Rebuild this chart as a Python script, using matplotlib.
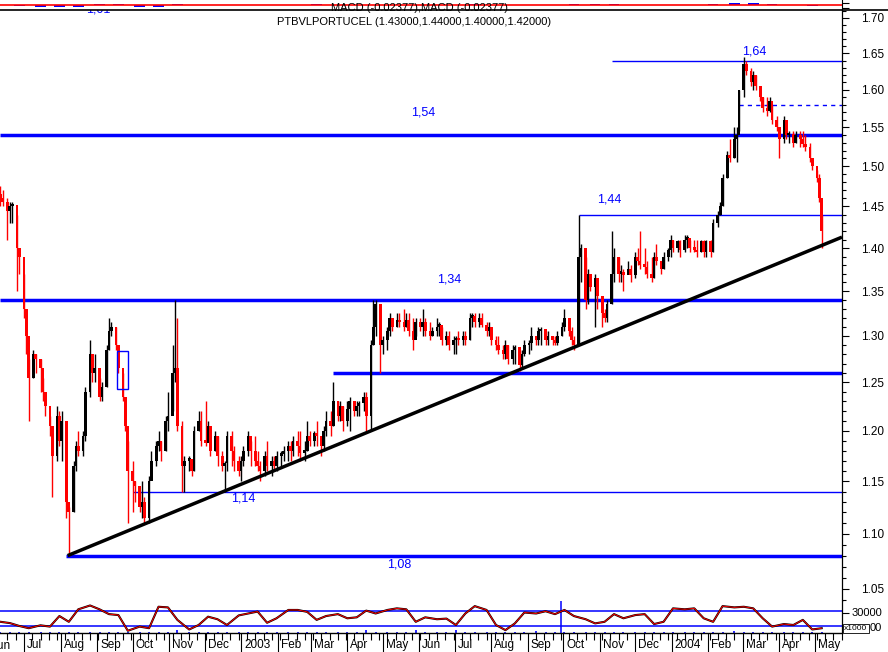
import numpy as np
import pandas as pd
import matplotlib
matplotlib.use("Agg")
import matplotlib.pyplot as plt
import matplotlib.dates as mdates
import matplotlib.transforms as mtransforms
from matplotlib.ticker import FixedLocator, FixedFormatter, NullFormatter, NullLocator
from matplotlib.patches import Rectangle
from matplotlib.lines import Line2D

plt.rcParams['font.family'] = ['Liberation Sans', 'DejaVu Sans']

# ---------------- data ----------------
first_date = '2002-06-11'          # one bar every 2 trading days
open_first = 1.465
close = [1.46, 1.455, 1.445, 1.45, 1.452, 1.40, 1.39, 1.33, 1.30, 1.255,
         1.28, 1.275, 1.265, 1.24, 1.225, 1.205, 1.175, 1.215, 1.19, 1.21,
         1.13, 1.12, 1.165, 1.185, 1.18, 1.195, 1.24, 1.28, 1.26, 1.265,
         1.235, 1.245, 1.285, 1.305, 1.31, 1.29, 1.265, 1.235, 1.205, 1.16,
         1.15, 1.145, 1.125, 1.13, 1.115, 1.15, 1.17, 1.185, 1.19, 1.18,
         1.21, 1.215, 1.26, 1.265, 1.205, 1.165, 1.17, 1.172, 1.16, 1.20,
         1.21, 1.19, 1.188, 1.205, 1.18, 1.195, 1.175, 1.165, 1.168, 1.195,
         1.18, 1.17, 1.16, 1.17, 1.18, 1.195, 1.18, 1.17, 1.165, 1.16,
         1.175, 1.165, 1.17, 1.165, 1.175, 1.177, 1.18, 1.185, 1.18, 1.19,
         1.185, 1.178, 1.18, 1.195, 1.19, 1.198, 1.195, 1.185, 1.20, 1.21,
         1.205, 1.23, 1.215, 1.225, 1.21, 1.222, 1.23, 1.22, 1.225, 1.228,
         1.235, 1.215, 1.29, 1.31, 1.335, 1.29, 1.295, 1.305, 1.32, 1.31,
         1.318, 1.315, 1.31, 1.318, 1.305, 1.295, 1.315, 1.31, 1.315, 1.305,
         1.30, 1.305, 1.31, 1.312, 1.295, 1.30, 1.29, 1.295, 1.298, 1.295,
         1.30, 1.295, 1.32, 1.322, 1.315, 1.32, 1.312, 1.305, 1.31, 1.295,
         1.29, 1.285, 1.28, 1.29, 1.275, 1.285, 1.288, 1.268, 1.28, 1.29,
         1.292, 1.30, 1.295, 1.305, 1.308, 1.295, 1.30, 1.295, 1.292, 1.30,
         1.31, 1.32, 1.305, 1.295, 1.29, 1.39, 1.40, 1.34, 1.37, 1.355,
         1.365, 1.345, 1.325, 1.32, 1.335, 1.37, 1.39, 1.37, 1.372, 1.368,
         1.375, 1.368, 1.39, 1.385, 1.38, 1.378, 1.37, 1.365, 1.39, 1.385,
         1.375, 1.39, 1.398, 1.41, 1.40, 1.408, 1.398, 1.41, 1.412, 1.40,
         1.398, 1.395, 1.408, 1.395, 1.408, 1.395, 1.43, 1.44, 1.45, 1.485,
         1.515, 1.51, 1.535, 1.54, 1.60, 1.635, 1.625, 1.61, 1.62, 1.605,
         1.59, 1.575, 1.572, 1.585, 1.56, 1.55, 1.535, 1.56, 1.54, 1.542,
         1.53, 1.54, 1.535, 1.528, 1.525, 1.51, 1.50, 1.485, 1.46, 1.42]
high = [1.475, 1.47, 1.46, 1.455, 1.455, 1.44, 1.40, 1.37, 1.33, 1.275,
        1.285, 1.28, 1.275, 1.255, 1.235, 1.215, 1.20, 1.225, 1.22, 1.22,
        1.20, 1.125, 1.17, 1.19, 1.20, 1.20, 1.245, 1.295, 1.28, 1.28,
        1.255, 1.25, 1.29, 1.32, 1.315, 1.31, 1.285, 1.26, 1.235, 1.19,
        1.17, 1.15, 1.14, 1.15, 1.135, 1.155, 1.18, 1.19, 1.20, 1.19,
        1.215, 1.24, 1.29, 1.34, 1.32, 1.21, 1.175, 1.175, 1.17, 1.205,
        1.22, 1.22, 1.23, 1.21, 1.20, 1.20, 1.195, 1.18, 1.17, 1.20,
        1.20, 1.185, 1.175, 1.175, 1.185, 1.20, 1.19, 1.195, 1.18, 1.17,
        1.18, 1.19, 1.175, 1.175, 1.18, 1.18, 1.185, 1.19, 1.19, 1.195,
        1.20, 1.20, 1.19, 1.21, 1.20, 1.20, 1.21, 1.19, 1.205, 1.22,
        1.22, 1.25, 1.23, 1.23, 1.225, 1.23, 1.235, 1.23, 1.23, 1.23,
        1.24, 1.24, 1.295, 1.34, 1.34, 1.33, 1.30, 1.31, 1.325, 1.32,
        1.325, 1.325, 1.33, 1.325, 1.325, 1.32, 1.32, 1.32, 1.33, 1.32,
        1.315, 1.31, 1.32, 1.315, 1.31, 1.305, 1.305, 1.30, 1.30, 1.305,
        1.305, 1.305, 1.325, 1.325, 1.325, 1.325, 1.325, 1.315, 1.315, 1.31,
        1.30, 1.30, 1.29, 1.295, 1.29, 1.29, 1.29, 1.285, 1.285, 1.295,
        1.295, 1.31, 1.30, 1.31, 1.31, 1.305, 1.305, 1.30, 1.30, 1.305,
        1.315, 1.33, 1.32, 1.31, 1.30, 1.44, 1.405, 1.39, 1.375, 1.37,
        1.37, 1.35, 1.345, 1.33, 1.34, 1.42, 1.40, 1.39, 1.38, 1.375,
        1.385, 1.38, 1.395, 1.40, 1.42, 1.40, 1.385, 1.39, 1.395, 1.405,
        1.385, 1.395, 1.40, 1.415, 1.41, 1.41, 1.41, 1.415, 1.415, 1.41,
        1.41, 1.41, 1.41, 1.41, 1.41, 1.41, 1.435, 1.445, 1.455, 1.49,
        1.52, 1.535, 1.55, 1.55, 1.60, 1.645, 1.64, 1.63, 1.625, 1.62,
        1.605, 1.59, 1.59, 1.59, 1.58, 1.565, 1.55, 1.565, 1.56, 1.545,
        1.545, 1.545, 1.545, 1.545, 1.54, 1.53, 1.51, 1.495, 1.49, 1.44]
low = [1.45, 1.45, 1.41, 1.43, 1.43, 1.35, 1.37, 1.32, 1.28, 1.21,
       1.255, 1.26, 1.24, 1.23, 1.215, 1.195, 1.135, 1.17, 1.185, 1.17,
       1.115, 1.08, 1.12, 1.16, 1.175, 1.175, 1.19, 1.235, 1.25, 1.25,
       1.23, 1.23, 1.245, 1.285, 1.30, 1.285, 1.26, 1.23, 1.20, 1.11,
       1.12, 1.13, 1.12, 1.115, 1.11, 1.11, 1.155, 1.165, 1.18, 1.17,
       1.18, 1.20, 1.22, 1.25, 1.20, 1.14, 1.14, 1.16, 1.155, 1.16,
       1.20, 1.185, 1.185, 1.19, 1.175, 1.18, 1.165, 1.16, 1.14, 1.16,
       1.165, 1.16, 1.155, 1.15, 1.165, 1.175, 1.165, 1.165, 1.16, 1.15,
       1.155, 1.16, 1.155, 1.16, 1.16, 1.165, 1.17, 1.17, 1.17, 1.175,
       1.175, 1.17, 1.17, 1.18, 1.185, 1.185, 1.185, 1.175, 1.18, 1.195,
       1.195, 1.205, 1.21, 1.21, 1.20, 1.205, 1.20, 1.215, 1.215, 1.215,
       1.22, 1.20, 1.20, 1.29, 1.30, 1.26, 1.28, 1.285, 1.30, 1.305,
       1.31, 1.31, 1.305, 1.31, 1.30, 1.285, 1.30, 1.305, 1.30, 1.30,
       1.295, 1.30, 1.30, 1.30, 1.29, 1.29, 1.285, 1.28, 1.28, 1.29,
       1.29, 1.29, 1.295, 1.31, 1.31, 1.31, 1.31, 1.30, 1.30, 1.29,
       1.285, 1.28, 1.275, 1.275, 1.27, 1.27, 1.27, 1.262, 1.265, 1.278,
       1.28, 1.285, 1.29, 1.29, 1.29, 1.29, 1.29, 1.29, 1.29, 1.29,
       1.30, 1.305, 1.30, 1.29, 1.285, 1.29, 1.36, 1.33, 1.335, 1.35,
       1.31, 1.33, 1.31, 1.315, 1.315, 1.335, 1.36, 1.36, 1.36, 1.35,
       1.37, 1.36, 1.365, 1.38, 1.375, 1.37, 1.365, 1.36, 1.365, 1.38,
       1.37, 1.375, 1.385, 1.39, 1.395, 1.395, 1.39, 1.395, 1.40, 1.395,
       1.395, 1.39, 1.395, 1.39, 1.39, 1.39, 1.395, 1.425, 1.44, 1.45,
       1.485, 1.505, 1.51, 1.505, 1.545, 1.59, 1.62, 1.605, 1.60, 1.60,
       1.585, 1.57, 1.565, 1.57, 1.555, 1.545, 1.51, 1.53, 1.535, 1.53,
       1.525, 1.53, 1.525, 1.525, 1.52, 1.505, 1.495, 1.48, 1.455, 1.40]

# oscillator (0-100) and volume, one value every 3rd bar
oscillator = [35, 31, 22, 15, 24, 20, 53, 35, 74, 86, 74, 59, 56, 7, 20, 15, 82, 80, 41, 11,
              25, 51, 43, 25, 55, 61, 67, 32, 46, 72, 72, 66, 41, 53, 59, 46, 49, 70, 61, 72,
              77, 74, 35, 49, 43, 45, 25, 61, 84, 72, 25, 9, 30, 64, 61, 68, 59, 72, 53, 43,
              30, 35, 59, 46, 56, 59, 28, 35, 77, 74, 77, 46, 35, 84, 80, 82, 77, 46, 20, 28,
              25, 41, 11, 15]
volume = [2, 3, 2, 2, 3, 2, 2, 3, 2, 2, 3, 2, 2, 3, 2, 2, 3, 2, 9, 3,
          2, 2, 3, 2, 2, 2, 3, 2, 2, 2, 3, 2, 2, 2, 3, 2, 2, 8, 3, 2,
          2, 3, 10, 2, 3, 2, 8, 2, 3, 2, 2, 3, 2, 2, 5, 2, 3, 2, 2, 3,
          2, 2, 2, 3, 4, 2, 2, 3, 2, 2, 3, 2, 2, 3, 6, 2, 3, 2, 2, 3,
          2, 2, 3, 2]
# MACD histogram strip, one value every 6th bar
macd = [0, -1, -2, -2, -1.5, 1.5, 1, -1.5, -1.5, 1, 0.5, 0.3, 0.2, 0, 0.3, 0.5, 1, 0.3, 0.2, 0.5,
        0.3, 0, 0.2, 0.3, 1, 0.2, 0, 0.2, 0.3, 1.5, 1.5, 1, 0.5, 0.5, 0.5, 0.5, 1.5, 2.5, 2.5, 1.5,
        0.5, -0.5]

price_ticks = [1.05, 1.10, 1.15, 1.20, 1.25, 1.30, 1.35, 1.40, 1.45, 1.50, 1.55, 1.60, 1.65, 1.70]
price_tick_labels = ['1.05', '1.10', '1.15', '1.20', '1.25', '1.30', '1.35', '1.40', '1.45',
                     '1.50', '1.55', '1.60', '1.65', '1.70']
month_labels = ['Jul', 'Aug', 'Sep', 'Oct', 'Nov', 'Dec', '2003', 'Feb', 'Mar', 'Apr', 'May',
                'Jun', 'Jul', 'Aug', 'Sep', 'Oct', 'Nov', 'Dec', '2004', 'Feb', 'Mar', 'Apr', 'May']

thick_levels = [1.54, 1.34, 1.26, 1.08]
thick_starts = [None, None, '2003-03-20', '2002-08-06']
thin_levels = [1.64, 1.44, 1.14]
thin_starts = ['2003-11-11', '2003-10-14', '2002-10-01']
dashed_level = 1.58
dashed_start = '2004-02-27'
trend_start = ('2002-08-07', 1.08)
trend_end_price = 1.413
level_labels = ['1,54', '1,34', '1,44', '1,64', '1,14', '1,08']
level_label_pos = [('2003-06-04', 1.570), ('2003-06-26', 1.363), ('2003-11-09', 1.459),
                   ('2004-03-10 14:00', 1.652), ('2003-01-03', 1.133), ('2003-05-15', 1.0715)]
box_dates = ('2002-09-18', '2002-09-27')
box_prices = (1.243, 1.283)
osc_marker_date = '2003-09-29'

title_text = 'PTBVLPORTUCEL (1.43000,1.44000,1.40000,1.42000)'
macd_text = 'MACD (-0.02377),MACD (-0.02377)'

# ---------------- figure ----------------
W, H = 888, 652
fig = plt.figure(figsize=(W / 100, H / 100), dpi=100)
RIGHT = 842


def fx(px):
    return px / W


def fy(py):
    return 1 - py / H


def dn(s):
    return mdates.date2num(pd.Timestamp(s))


ax = fig.add_axes([0, fy(601), fx(RIGHT), (601 - 10) / H])
axo = fig.add_axes([0, fy(633), fx(RIGHT), (633 - 601) / H], sharex=ax)
axm = fig.add_axes([0, fy(10), fx(RIGHT), 10 / H], sharex=ax)

BLUE = '#0000ff'
RED = '#ff0000'

dates = pd.bdate_range(first_date, periods=2 * len(close))[::2]
xd = mdates.date2num(dates.to_pydatetime())
c = np.array(close)
hi = np.array(high)
lo = np.array(low)
o = np.r_[open_first, c[:-1]]
up = c >= o
cols = np.where(up, 'black', RED)

xmin = dn('2002-06-10 16:00')
xmax = dn('2004-05-24 05:00')

# levels (behind)
for lev, st in zip(thick_levels, thick_starts):
    x0 = xmin if st is None else dn(st)
    ax.hlines(lev, x0, xmax, colors=BLUE, lw=2.5, zorder=1)
for lev, st in zip(thin_levels, thin_starts):
    ax.hlines(lev, dn(st), xmax, colors=BLUE, lw=1.0, zorder=1)
ax.hlines(dashed_level, dn(dashed_start), xmax, colors=BLUE, lw=1.0,
          linestyles=(0, (3, 3)), zorder=1)

# candles
ax.vlines(xd, lo, hi, colors=cols, lw=1.0, zorder=3)
bot = np.minimum(o, c)
top = np.maximum(np.maximum(o, c), bot * 1.002)
ax.bar(xd, top - bot, bottom=bot, width=2.3, color=cols, linewidth=0, zorder=3)

# trend line
ax.plot([dn(trend_start[0]), xmax], [trend_start[1], trend_end_price], color='black',
        lw=2.5, zorder=4, solid_capstyle='butt')

# box annotation
ax.add_patch(Rectangle((dn(box_dates[0]), box_prices[0]), dn(box_dates[1]) - dn(box_dates[0]),
                       box_prices[1] - box_prices[0], fill=False, edgecolor=BLUE, lw=1.0, zorder=5))

for lab, (d, p) in zip(level_labels, level_label_pos):
    ax.text(dn(d), p, lab, color=BLUE, fontsize=9, ha='center', va='center', zorder=6)
# label cut by the top edge of the price panel
ax.text(dn('2002-09-02'), 1.7125, '1,01', color=BLUE, fontsize=9, ha='center', va='center',
        clip_on=True)

ax.set_yscale('log')
ax.set_xlim(xmin, xmax)
ax.set_ylim(1.0394, 1.7115)
ax.yaxis.set_major_locator(FixedLocator(price_ticks))
ax.yaxis.set_major_formatter(FixedFormatter(price_tick_labels))
minor = [round(1.04 + 0.01 * i, 2) for i in range(68)]
minor = [m for m in minor if m not in price_ticks]
ax.yaxis.set_minor_locator(FixedLocator(minor))
ax.yaxis.set_minor_formatter(NullFormatter())
ax.yaxis.tick_right()
ax.tick_params(axis='y', which='major', length=5, width=0.8, pad=8.5, labelsize=8.5,
               direction='out')
ax.tick_params(axis='y', which='minor', length=2.7, width=0.8, direction='out')
ax.tick_params(axis='x', which='both', bottom=False, labelbottom=False)
for s in ['left', 'top', 'bottom']:
    ax.spines[s].set_visible(False)
ax.spines['right'].set_linewidth(0.9)
ax.set_facecolor('white')

# ---------------- oscillator panel ----------------
xo = xd[::3]
axo.vlines(xo, 0, volume, colors=BLUE, lw=1.2, zorder=1)
axo.axhline(70, color=BLUE, lw=1.1, zorder=2)
axo.axhline(22, color=BLUE, lw=1.1, zorder=2)
axo.axvline(dn(osc_marker_date), color=BLUE, lw=1.1, zorder=2)
axo.plot(xo, oscillator, color='black', lw=1.5, zorder=3)
axo.plot(xo, oscillator, color=RED, lw=0.7, zorder=4)
axo.set_ylim(0, 100)
axo.set_xlim(xmin, xmax)
for s in ['left', 'top']:
    axo.spines[s].set_visible(False)
axo.spines['bottom'].set_linewidth(1.0)
axo.spines['right'].set_linewidth(0.9)
axo.yaxis.tick_right()
axo.yaxis.set_major_locator(FixedLocator([62.5, 19]))
axo.yaxis.set_major_formatter(NullFormatter())
axo.tick_params(axis='y', length=5, width=0.8)

month_starts = pd.date_range('2002-07-01', periods=len(month_labels), freq='MS')
axo.xaxis.set_major_locator(FixedLocator(mdates.date2num(month_starts.to_pydatetime())))
axo.xaxis.set_major_formatter(FixedFormatter(month_labels))
axo.xaxis.set_minor_locator(mdates.WeekdayLocator(byweekday=mdates.MO))
axo.tick_params(axis='x', which='major', length=14, width=0.8, pad=-9.5, labelsize=8.5)
axo.tick_params(axis='x', which='minor', length=5, width=0.8)
offset = mtransforms.ScaledTranslation(3 / 100, 0, fig.dpi_scale_trans)
for lbl in axo.get_xticklabels():
    lbl.set_horizontalalignment('left')
    lbl.set_transform(lbl.get_transform() + offset)
fig.text(fx(-8.5), fy(646), 'Jun', fontsize=8.5, ha='left', va='center')

fig.text(fx(852), fy(613), '30000', fontsize=8, ha='left', va='center')
fig.text(fx(870), fy(628), '00', fontsize=8, ha='left', va='center')
fig.text(fx(844), fy(628.5), 'x1000', fontsize=6, ha='left', va='center',
         bbox=dict(boxstyle='square,pad=0.15', fc='white', ec='black', lw=0.6))

# ---------------- MACD strip ----------------
xm = xd[::6]
axm.bar(xm, macd, width=9, color=BLUE, linewidth=0, zorder=2)
axm.axhline(0, color=RED, lw=1.2, zorder=3)
axm.set_ylim(-5, 5)
axm.set_xlim(xmin, xmax)
for s in ['left', 'top', 'bottom']:
    axm.spines[s].set_visible(False)
axm.yaxis.tick_right()
axm.yaxis.set_major_locator(FixedLocator([-3, 2.5]))
axm.yaxis.set_major_formatter(NullFormatter())
axm.tick_params(axis='y', length=5, width=0.8)
axm.tick_params(axis='x', which='both', bottom=False, labelbottom=False)

# separator line under the MACD strip, full width
fig.add_artist(Line2D([0, 1], [fy(10), fy(10)], color='black', lw=1.2, transform=fig.transFigure))

fig.text(fx(331), fy(11), macd_text, fontsize=8, ha='left', va='baseline')
fig.text(fx(277), fy(25), title_text, fontsize=8, ha='left', va='baseline')

fig.savefig('out.png', dpi=100, facecolor='white')
